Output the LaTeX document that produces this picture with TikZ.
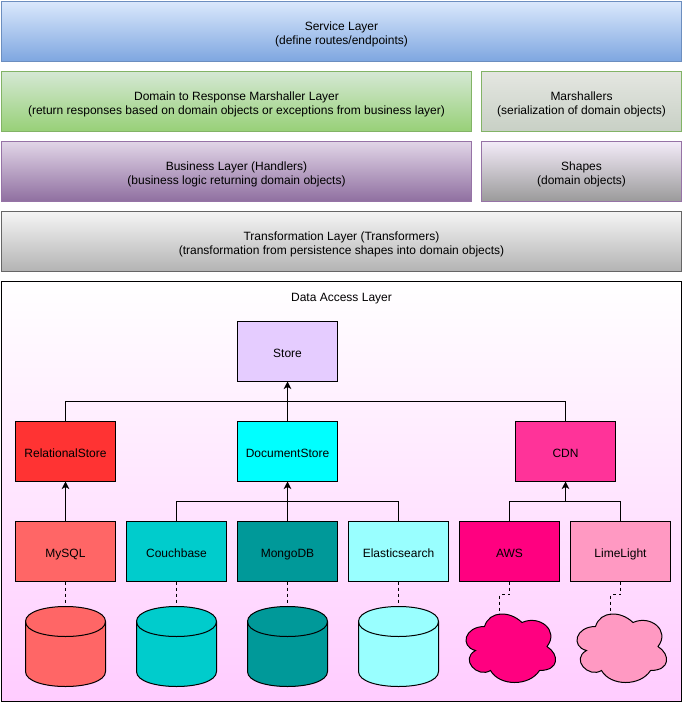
\documentclass[tikz,border=0pt]{standalone}
\usepackage{fontspec}
\setmainfont{Liberation Sans}
\usetikzlibrary{arrows.meta}
\definecolor{servicetop}{HTML}{DAE8FC}
\definecolor{servicebot}{HTML}{7EA6E0}
\definecolor{serviceline}{HTML}{6C8EBF}
\definecolor{greentop}{HTML}{D5E8D4}
\definecolor{greenbot}{HTML}{97D077}
\definecolor{greenline}{HTML}{82B366}
\definecolor{marshaltop}{HTML}{E4E6E1}
\definecolor{marshalbot}{HTML}{C8D0C5}
\definecolor{purpletop}{HTML}{E1D5E7}
\definecolor{purplebot}{HTML}{8F6FA0}
\definecolor{purpleline}{HTML}{9673A6}
\definecolor{shapestop}{HTML}{F3EBF8}
\definecolor{shapesbot}{HTML}{9A9A9A}
\definecolor{transtop}{HTML}{F5F5F5}
\definecolor{transbot}{HTML}{B3B3B3}
\definecolor{transline}{HTML}{666666}
\definecolor{datatop}{HTML}{FFFFFF}
\definecolor{databot}{HTML}{FFCCFF}
\definecolor{storecol}{HTML}{E5CCFF}
\definecolor{relcol}{HTML}{FF3333}
\definecolor{doccol}{HTML}{00FFFF}
\definecolor{cdncol}{HTML}{FF3399}
\definecolor{mysqlcol}{HTML}{FF6666}
\definecolor{couchcol}{HTML}{00CCCC}
\definecolor{mongocol}{HTML}{009999}
\definecolor{elasticcol}{HTML}{99FFFF}
\definecolor{awscol}{HTML}{FF0080}
\definecolor{limecol}{HTML}{FF99C2}
\tikzset{
	labeltext/.style={align=center,font=\fontsize{12}{14}\selectfont,
		execute at begin node={\rule{0pt}{15pt}},execute at end node={\rule[-3pt]{0pt}{3pt}}},
	box/.style={labeltext,draw,line width=1pt,outer sep=0pt,minimum height=60pt},
	layer/.style={box,execute at begin node={\rule{0pt}{29pt}}},
	store/.style={box,minimum width=100pt,fill=#1},
	link/.style={line width=1pt},
	inherit/.style={link,-{Stealth[length=7.5pt,width=7.5pt,inset=2pt]}},
	dbline/.style={link,dash pattern=on 3pt off 3pt},
}
% cylinder: left edge, top edge, colour
\newcommand{\dbshape}[3]{
	\begin{scope}[shift={(#1,#2)}]
		\draw [link,fill=#3] (0,15) .. controls (0,-5) and (80,-5) .. (80,15) -- (80,65) .. controls (80,85) and (0,85) .. (0,65) -- cycle;
		\draw [link] (0,15) .. controls (0,35) and (80,35) .. (80,15);
	\end{scope}
}
% cloud: left edge, top edge, colour
\newcommand{\cloudshape}[3]{
	\begin{scope}[shift={(#1,#2)}]
		\draw [link,fill=#3] (25,20) .. controls (5,20) and (0,40) .. (16,44)
			.. controls (0,52.8) and (18,72) .. (31,64)
			.. controls (40,80) and (70,80) .. (80,64)
			.. controls (100,64) and (100,48) .. (87.5,40)
			.. controls (100,24) and (80,8) .. (62.5,16)
			.. controls (50,4) and (30,4) .. (25,20) -- cycle;
	\end{scope}
}
\begin{document}
\begin{tikzpicture}[x=1pt,y=-1pt]
	\useasboundingbox (0,0) rectangle (683,703);
	% layers
		\node [layer,minimum width=680pt,draw=serviceline,top color=servicetop,bottom color=servicebot] (service) at (341.5,31.5) {Service Layer\\(define routes/endpoints)};
		\node [layer,minimum width=470pt,draw=greenline,top color=greentop,bottom color=greenbot] (marshal) at (236.5,101.5) {Domain to Response Marshaller Layer\\(return responses based on domain objects or exceptions from business layer)};
		\node [layer,minimum width=200pt,draw=greenline,top color=marshaltop,bottom color=marshalbot] (marshallers) at (581.5,101.5) {Marshallers\\(serialization of domain objects)};
		\node [layer,minimum width=470pt,draw=purpleline,top color=purpletop,bottom color=purplebot] (business) at (236.5,171.5) {Business Layer (Handlers)\\(business logic returning domain objects)};
		\node [layer,minimum width=200pt,draw=purpleline,top color=shapestop,bottom color=shapesbot] (shapes) at (581.5,171.5) {Shapes\\(domain objects)};
		\node [layer,minimum width=680pt,draw=transline,top color=transtop,bottom color=transbot] (transform) at (341.5,241.5) {Transformation Layer (Transformers)\\(transformation from persistence shapes into domain objects)};
	% data access
		\node [box,minimum width=680pt,minimum height=420pt,top color=datatop,bottom color=databot] (dataaccess) at (341.5,491.5) {};
		\node [labeltext] (datalabel) at (341.5,295) {Data Access Layer};
	% stores
		\node [store=storecol] (store) at (287.5,351.5) {Store};
		\node [store=relcol] (relstore) at (65.5,451.5) {RelationalStore};
		\node [store=doccol] (docstore) at (287.5,451.5) {DocumentStore};
		\node [store=cdncol] (cdn) at (565.5,451.5) {CDN};
		\node [store=mysqlcol] (mysql) at (65.5,551.5) {MySQL};
		\node [store=couchcol] (couchbase) at (176.5,551.5) {Couchbase};
		\node [store=mongocol] (mongodb) at (287.5,551.5) {MongoDB};
		\node [store=elasticcol] (elastic) at (398.5,551.5) {Elasticsearch};
		\node [store=awscol] (aws) at (509.5,551.5) {AWS};
		\node [store=limecol] (limelight) at (620.5,551.5) {LimeLight};
	% buses
		\coordinate (storebus) at (287.5,401.5);
		\coordinate (docbus) at (287.5,501.5);
		\coordinate (cdnbus) at (565.5,501.5);
		\draw [inherit] (docstore) -- (store);
		\draw [link] (relstore) |- (storebus);
		\draw [link] (cdn) |- (storebus);
		\draw [inherit] (mysql) -- (relstore);
		\draw [inherit] (mongodb) -- (docstore);
		\draw [link] (couchbase) |- (docbus);
		\draw [link] (elastic) |- (docbus);
		\draw [inherit] (cdnbus) -- (cdn);
		\draw [link] (aws) |- (cdnbus);
		\draw [link] (limelight) |- (cdnbus);
	% databases
		\dbshape{25.5}{606.5}{mysqlcol}
		\dbshape{136.5}{606.5}{couchcol}
		\dbshape{247.5}{606.5}{mongocol}
		\dbshape{358.5}{606.5}{elasticcol}
		\cloudshape{459.5}{606.5}{awscol}
		\cloudshape{570.5}{606.5}{limecol}
		\coordinate (mysqldb) at (65.5,606.5);
		\coordinate (couchdb) at (176.5,606.5);
		\coordinate (mongodisk) at (287.5,606.5);
		\coordinate (elasticdb) at (398.5,606.5);
		\coordinate (awscloud) at (499.5,614.5);
		\coordinate (limecloud) at (610.5,614.5);
		\draw [dbline] (mysql) -- (mysqldb);
		\draw [dbline] (couchbase) -- (couchdb);
		\draw [dbline] (mongodb) -- (mongodisk);
		\draw [dbline] (elastic) -- (elasticdb);
		\draw [dbline] (aws.south) -- ++(0,13) -| (awscloud);
		\draw [dbline] (limelight.south) -- ++(0,13) -| (limecloud);
\end{tikzpicture}
\end{document}
